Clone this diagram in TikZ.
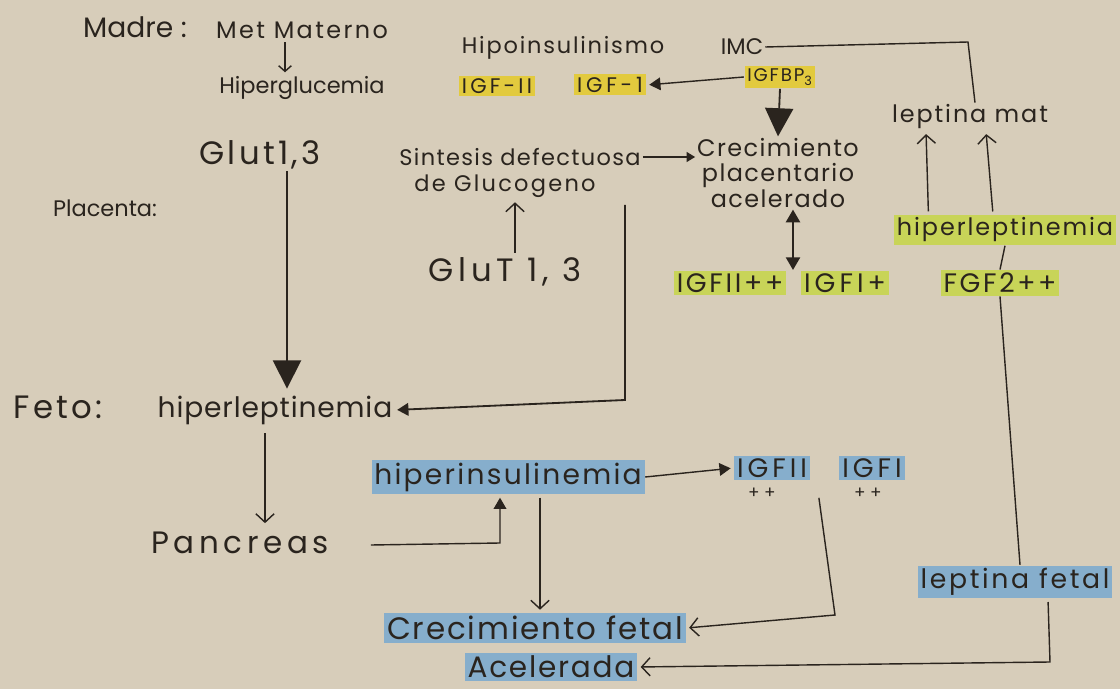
\documentclass[tikz,border=0pt]{standalone}
\usepackage{fontspec}
\setmainfont{Poppins}
\usetikzlibrary{arrows.meta,positioning,calc}
\definecolor{paper}{RGB}{215,205,186}
\definecolor{ink}{RGB}{42,36,30}
\definecolor{hlyellow}{RGB}{226,202,62}
\definecolor{hlgreen}{RGB}{200,212,88}
\definecolor{hlblue}{RGB}{134,174,204}
% handwriting-ish font: size, letter spacing
\newcommand{\hw}[2]{\fontsize{#1}{#1}\selectfont\addfontfeatures{LetterSpace=#2}}
\tikzset{
  hand/.style={
    x=0.025cm, y=-0.025cm,
    color=ink, line width=1pt,
    every node/.style={inner sep=1pt, font=\hw{16}{0}}
  },
  hly/.style={fill=hlyellow, inner sep=2pt},  % yellow marker
  hlg/.style={fill=hlgreen, inner sep=2pt},   % green marker
  hlb/.style={fill=hlblue, inner sep=2pt},    % blue marker
  openarrow/.style={-{Straight Barb[length=6pt,width=13pt]}, shorten >=2pt, shorten <=2pt},
  fillarrow/.style={-{Triangle[length=8pt,width=9pt]}, shorten >=2pt},
  bigarrow/.style={-{Triangle[length=20pt,width=20pt]}, line width=1.3pt},
  dblarrow/.style={{Triangle[length=9pt,width=10pt]}-{Triangle[length=9pt,width=10pt]}, line width=1.5pt}
}
\begin{document}
\begin{tikzpicture}[hand]
\fill[paper] (0,0) rectangle (1120,689);
\useasboundingbox (0,0) rectangle (1120,689);

% Madre
\node[font=\hw{20}{0}]  (madre)     at (135,27)  {Madre :};
\node[font=\hw{17}{10}] (metmat)    at (302,30)  {Met Materno};
\node                   (hipergluc) at (302,88)  {Hiperglucemia};
\node[font=\hw{16}{8}]  (hipoins)   at (563,48)  {Hipoinsulinismo};
\node                   (imc)       at (742,47)  {IMC};
\node[hly, font=\hw{15}{15}] (igfii) at (497,86) {IGF-II};
\node[hly, font=\hw{15}{18}] (igfi)  at (610,85) {IGF-1};
\node[hly, font=\hw{13}{10}] (igfbp) at (780,77) {IGFBP\textsubscript{3}};
\node[font=\hw{17}{8}]  (leptmat)   at (970,117) {leptina mat};

\draw[-{Straight Barb[length=4pt,width=9pt]}] ($(metmat.south)+(-17,2)$) -- ($(hipergluc.north)+(-17,-2)$);
\draw[fillarrow] (igfbp.west) -- (igfi.east);
\coordinate (imcturn) at (968,42);
\draw (imc.east) -- (imcturn) -- ($(leptmat.north)+(5,0)$);

% Placenta
\node[font=\hw{23}{10}] (glutA)     at (260,155) {Glut1,3};
\node                   (placenta)  at (105,208) {Placenta:};
\node[font=\hw{16}{6}]  (sintesis)  at (520,157) {Sintesis defectuosa};
\node[font=\hw{16}{10}] (glucogeno) at (505,186) {de Glucogeno};
\node[align=center, font=\hw{17}{6}] (crecplac) at (778,173) {Crecimiento\\[1pt]placentario\\[1pt]acelerado};
\node[font=\hw{23}{15}] (glutB)     at (505,272) {GluT 1, 3};
\node[hlg, font=\hw{19}{10}] (igfiipl)   at (730,283) {IGFII++};
\node[hlg, font=\hw{19}{15}] (igfipl)    at (845,283) {IGFI+};
\node[hlg, font=\hw{17}{8}]  (hiperlepM) at (1005,230) {hiperleptinemia};
\node[hlg, font=\hw{19}{10}] (fgf)       at (1000,283) {FGF2++};

\draw[bigarrow] (igfbp.south) -- (crecplac.north);
\draw[-{Triangle[length=6pt,width=7pt]}] (sintesis.east) -- (sintesis.east -| crecplac.west);
\draw[openarrow] ($(glutB.north)+(10,0)$) -- ($(glucogeno.south)+(10,0)$);
\coordinate (dbl) at ($(crecplac.south)+(15,0)$);
\draw[dblarrow] (dbl) -- (dbl |- igfiipl.north);
\draw[openarrow] ($(hiperlepM.north west)+(35,0)$) -- ($(leptmat.south)+(-44,0)$);
\draw[openarrow] ($(hiperlepM.north)+(-12,0)$) -- ($(leptmat.south)+(16,0)$);
\draw (hiperlepM.south) -- (fgf.north);

% Feto
\node[font=\hw{23}{10}] (feto)      at (58,407)  {Feto:};
\node[font=\hw{20}{3}]  (hiperlepF) at (275,410) {hiperleptinemia};
\node[font=\hw{22}{15}] (pancreas)  at (240,543) {Pancreas};
\node[hlb, font=\hw{20}{8}]  (hiperins)  at (508,477) {hiperinsulinemia};
\node[hlb, font=\hw{19}{15}] (igfiiF)    at (772,468) {IGFII};
\node[hlb, font=\hw{19}{15}] (igfiF)     at (872,468) {IGFI};
\node[font=\hw{12}{0}] (plusA) at (762,493) {+ +};
\node[font=\hw{12}{0}] (plusB) at (868,493) {+ +};
\node[hlb, font=\hw{22}{6}]  (crecfet)   at (535,628) {Crecimiento fetal};
\node[hlb, font=\hw{21}{6}]  (acel)      at (551,667) {Acelerada};
\node[hlb, font=\hw{19}{10}] (leptfet)   at (1015,582) {leptina fetal};

\draw[bigarrow] ($(glutA.south)+(27,0)$) -- ($(glutA.south |- hiperlepF.north)+(27,-5)$);
\coordinate (glstart) at (625,205);
\coordinate (glturn)  at (625,400);
\draw[fillarrow, line width=1.3pt] (glstart) -- (glturn) -- (hiperlepF.east);
\draw[openarrow] ($(hiperlepF.south)+(-10,4)$) -- ($(pancreas.north)+(25,-4)$);
\coordinate (pcorner) at (500,543);
\draw[fillarrow] ($(pancreas.east)+(40,2)$) -- (pcorner) -- (pcorner |- hiperins.south);
\draw[fillarrow] (hiperins.east) -- (igfiiF.west);
\draw[openarrow] ($(hiperins.south)+(32,0)$) -- ($(crecfet.north)+(5,0)$);
\coordinate (igfturn) at (835,615);
\draw[openarrow] ($(igfiiF.south east)+(8,14)$) -- (igfturn) -- (crecfet.east);
\draw (fgf.south) -- ($(leptfet.north)+(5,0)$);
\coordinate (lfturn) at (1050,662);
\draw[openarrow] ($(leptfet.south)+(33,0)$) -- (lfturn) -- (acel.east);
\end{tikzpicture}
\end{document}
